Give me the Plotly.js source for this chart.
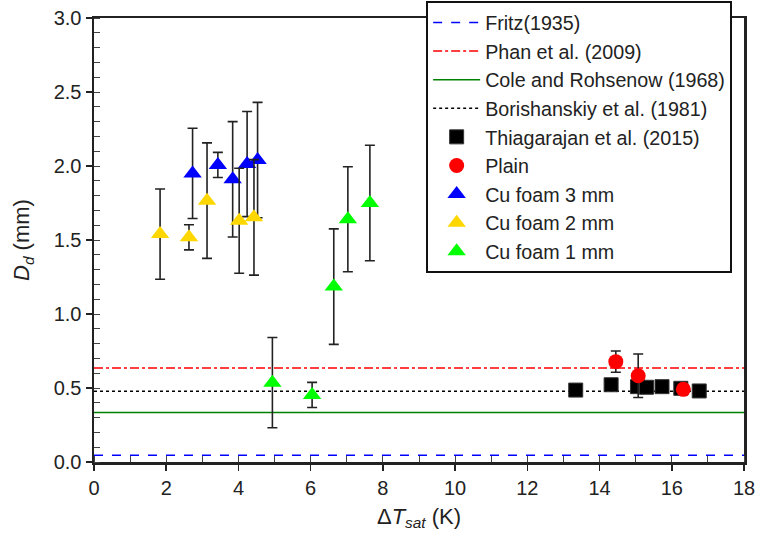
<!DOCTYPE html>
<html><head><meta charset="utf-8">
<script src="https://cdn.plot.ly/plotly-3.0.1.min.js"></script>
<style>body{margin:0;background:#fff}#chart{width:764px;height:536px}</style>
</head><body><div id="chart"></div>
<script>
// Correlation lines (constant values)
const lineX = [0, 18];
const fritzY = 0.045;
const phanY = 0.635;
const coleY = 0.335;
const borisY = 0.478;

// Thiagarajan et al. (2015)
const thiaX = [13.34, 14.32, 15.05, 15.30, 15.73, 16.25, 16.76];
const thiaY = [0.486, 0.522, 0.509, 0.505, 0.509, 0.498, 0.480];

// Plain
const plainX = [14.45, 15.07, 16.32];
const plainY = [0.678, 0.583, 0.491];
const plainErr = [0.072, 0.147, 0.0];

// Cu foam 3 mm
const cu3X = [2.73, 3.43, 3.84, 4.24, 4.53];
const cu3Y = [1.95, 2.007, 1.91, 2.013, 2.04];
const cu3Err = [0.305, 0.085, 0.39, 0.355, 0.39];

// Cu foam 2 mm
const cu2X = [1.83, 2.63, 3.13, 4.02, 4.43];
const cu2Y = [1.54, 1.518, 1.766, 1.63, 1.653];
const cu2Err = [0.305, 0.085, 0.39, 0.355, 0.39];

// Cu foam 1 mm
const cu1X = [4.94, 6.04, 6.64, 7.03, 7.64];
const cu1Y = [0.536, 0.453, 1.185, 1.64, 1.75];
const cu1Err = [0.305, 0.085, 0.39, 0.355, 0.39];

const errStyle = arr => ({type:'data', array:arr, visible:true, color:'#222', thickness:1.6, width:5});

const traces = [
  {x: lineX, y: [fritzY, fritzY], mode:'lines', name:'Fritz(1935)', line:{color:'#0000ff', dash:'dash', width:1.5}},
  {x: lineX, y: [phanY, phanY], mode:'lines', name:'Phan et al. (2009)', line:{color:'#ff0000', dash:'dashdot', width:1.5}},
  {x: lineX, y: [coleY, coleY], mode:'lines', name:'Cole and Rohsenow (1968)', line:{color:'#008000', width:1.5}},
  {x: lineX, y: [borisY, borisY], mode:'lines', name:'Borishanskiy et al. (1981)', line:{color:'#000000', dash:'dot', width:1.5}},
  {x: thiaX, y: thiaY, mode:'markers', name:'Thiagarajan et al. (2015)', marker:{symbol:'square', color:'#000', size:14, line:{color:'#333', width:1}}},
  {x: plainX, y: plainY, mode:'markers', name:'Plain', marker:{symbol:'circle', color:'#ff0000', size:15}, error_y: errStyle(plainErr)},
  {x: cu3X, y: cu3Y, mode:'markers', name:'Cu foam 3 mm', marker:{symbol:'triangle-up', color:'#0000ff', size:16}, error_y: errStyle(cu3Err)},
  {x: cu2X, y: cu2Y, mode:'markers', name:'Cu foam 2 mm', marker:{symbol:'triangle-up', color:'#ffd700', size:16}, error_y: errStyle(cu2Err)},
  {x: cu1X, y: cu1Y, mode:'markers', name:'Cu foam 1 mm', marker:{symbol:'triangle-up', color:'#00ff00', size:16}, error_y: errStyle(cu1Err)}
];

const fontFam = 'Liberation Sans, Arial, sans-serif';
const layout = {
  width: 764, height: 536,
  margin: {l:94, r:20, t:18, b:74, autoexpand:false},
  paper_bgcolor:'#fff', plot_bgcolor:'#fff',
  font: {family: fontFam, color:'#222', size:20},
  showlegend: true,
  legend: {x:0.511, xanchor:'left', y:1.038, yanchor:'top', bgcolor:'#fff', bordercolor:'#111', borderwidth:2,
           font:{size:19.7, color:'#222'}, tracegroupgap:0, itemwidth:47, maxheight:600},
  xaxis: {range:[0,18], dtick:2, tick0:0, showgrid:false, zeroline:false, showline:true, linecolor:'#222', linewidth:2.5,
          mirror:true, ticks:'outside', ticklen:6, tickwidth:1.5, tickcolor:'#222', automargin:false,
          minor:{dtick:1, ticks:'inside', ticklen:6, tickwidth:1, tickcolor:'#444', showgrid:false},
          tickfont:{size:20},
          title:{text:'Δ<i>T</i><sub><i>sat</i></sub> (K)', font:{size:22}, standoff:11}},
  yaxis: {range:[0,3], dtick:0.5, tick0:0, tickformat:'.1f', showgrid:false, zeroline:false, showline:true, linecolor:'#222', linewidth:2.5,
          mirror:true, ticks:'outside', ticklen:6, tickwidth:1.5, tickcolor:'#222', automargin:false,
          minor:{dtick:0.1, ticks:'inside', ticklen:6, tickwidth:1, tickcolor:'#444', showgrid:false},
          tickfont:{size:20},
          title:{text:'<i>D</i><sub><i>d</i></sub> (mm)', font:{size:22}, standoff:18}}
};

Plotly.newPlot('chart', traces, layout, {displayModeBar:false, staticPlot:true});
</script></body></html>
